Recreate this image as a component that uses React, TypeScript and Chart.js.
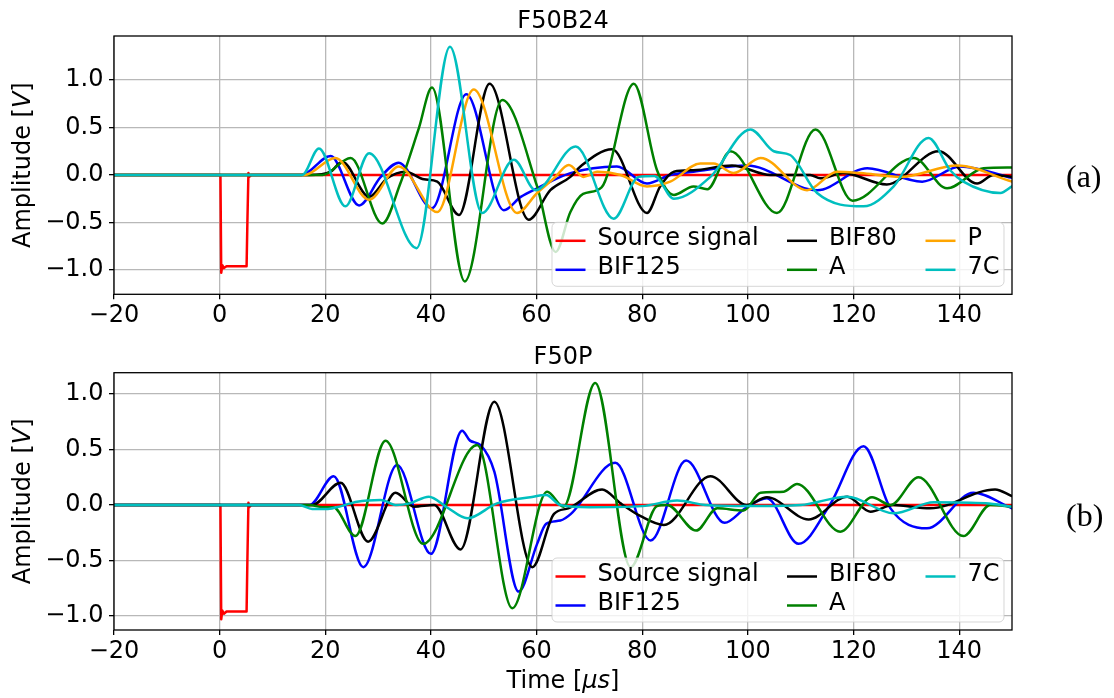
import React, { useEffect, useRef } from "react";
import { Chart, registerables } from "chart.js";

Chart.register(...registerables);

const W = 1114;
const FONT = "'DejaVu Sans', 'Noto Sans', sans-serif";
const GRID = "#b8b8b8";

// ---------- axis ticks ----------
const xTicks = [-20, 0, 20, 40, 60, 80, 100, 120, 140];
const yTicks = [-1.0, -0.5, 0.0, 0.5, 1.0];

// ---------- series names / colours ----------
const nameSource = "Source signal";
const nameBif125 = "BIF125";
const nameBif80 = "BIF80";
const nameA = "A";
const nameP = "P";
const name7C = "7C";

const colSource = "#ff0000";
const colBif125 = "#0000ff";
const colBif80 = "#000000";
const colA = "#008000";
const colP = "#ffa500";
const col7C = "#00bfbf";

// ---------- source signal (both panels) ----------
const sourceT = [-20, 0.15, 0.3, 0.5, 0.8, 1.3, 5.1, 5.25, 5.45, 5.6, 6.0, 150];
const sourceV = [0, 0, -1.03, -0.95, -0.98, -0.96, -0.96, -0.5, 0.02, -0.02, 0, 0];

// ---------- panel (a) F50B24 ----------
const b24Bif125T = [-20, 15.5, 21, 26.4, 30.5, 33.9, 40.2, 46.7, 53.8, 57, 60.1, 66.4, 75.2, 80.9, 85.3, 89.7, 99.8, 113.1, 122.6, 133, 140.2, 150];
const b24Bif125V = [0, 0, 0.2, -0.32, -0.02, 0.13, -0.35, 0.85, -0.37, -0.23, -0.14, 0.02, 0.09, -0.09, 0, 0.035, 0.1, -0.16, 0.07, -0.07, 0.09, -0.03];

const b24Bif80T = [-20, 17, 21, 23.2, 28.3, 31.7, 35.2, 38.7, 41.2, 45.3, 51.1, 58.5, 62.6, 66.4, 68.3, 74.3, 80.9, 83.4, 86, 89.7, 97, 104.3, 111.8, 113.7, 118, 126.3, 136.1, 143.4, 146.5, 150];
const b24Bif80V = [0, 0, 0.035, 0.14, -0.23, -0.035, 0.035, -0.046, -0.07, -0.42, 0.96, -0.47, -0.16, -0.02, 0.09, 0.27, -0.4, -0.12, 0.035, 0.05, 0.1, 0, 0, -0.035, 0.02, -0.1, 0.25, -0.09, 0, -0.02];

const b24AT = [-20, 19.5, 24.8, 30.8, 34.2, 37.7, 40.2, 46.4, 53.5, 60.1, 63.6, 66.4, 68.8, 72.3, 78.4, 82.8, 86, 89.7, 92.3, 96.7, 105.5, 112.8, 119.8, 131.4, 137.7, 144.6, 150];
const b24AV = [0, 0, 0.18, -0.51, -0.09, 0.49, 0.92, -1.12, 0.79, -0.12, -0.81, -0.39, -0.2, -0.13, 0.96, 0.05, -0.21, -0.12, -0.15, 0.25, -0.4, 0.48, -0.27, 0.18, -0.14, 0.07, 0.08];

const b24PT = [-20, 16, 21.9, 28.3, 33.9, 41.2, 48.1, 56.3, 60.1, 63.3, 66.1, 68.9, 71.5, 75.9, 80.9, 85.3, 91, 93.5, 97.3, 102.4, 111.2, 116.9, 121.3, 128.9, 139.6, 150];
const b24PV = [0, 0, 0.18, -0.26, 0.09, -0.39, 0.9, -0.4, -0.19, -0.035, 0.105, -0.02, 0.035, 0, -0.12, -0.07, 0.12, 0.12, 0.02, 0.18, -0.16, 0.035, 0.02, -0.02, 0.1, -0.07];

const b24C7T = [-20, 15.6, 18.8, 23.8, 28.3, 37.3, 43.6, 49.7, 55.7, 59.8, 67.4, 74.6, 79.3, 82.3, 86, 92.9, 100.5, 104.9, 108, 113.1, 121.9, 127.6, 134.2, 138.3, 140.8, 147.8, 150];
const b24C7V = [0, 0, 0.28, -0.33, 0.23, -0.77, 1.35, -0.4, 0.16, -0.16, 0.3, -0.46, -0.02, -0.01, -0.25, -0.02, 0.48, 0.25, 0.21, -0.19, -0.33, -0.12, 0.39, 0.05, -0.07, -0.19, -0.12];

// ---------- panel (b) F50P ----------
const pBif125T = [-20, 17, 21.6, 27.2, 33.6, 40, 45.9, 47.4, 49.4, 52, 56.6, 60.1, 61.8, 64.5, 66.5, 74.9, 81.6, 88.3, 95.6, 99.5, 103.6, 109.6, 115.5, 121.9, 127, 133.9, 142.7, 150];
const pBif125V = [0, 0, 0.26, -0.56, 0.36, -0.44, 0.67, 0.58, 0.54, 0.3, -0.78, -0.35, -0.17, -0.14, -0.08, 0.38, -0.32, 0.4, -0.16, -0.03, 0.06, -0.35, 0, 0.53, -0.03, -0.21, 0.11, -0.03];

const pBif80T = [-20, 17.5, 22.9, 28.1, 33.3, 36.8, 40.6, 45.6, 52, 59.2, 63.3, 66, 72.4, 75.9, 79.7, 84.1, 92.9, 99.8, 103.6, 111.5, 118.8, 123.2, 127.5, 134.5, 146.8, 150];
const pBif80V = [0, 0, 0.2, -0.33, 0.11, -0.015, 0, -0.4, 0.93, -0.56, -0.08, -0.03, 0.14, 0.015, -0.1, -0.18, 0.26, 0, 0.07, -0.13, 0.075, -0.06, 0, -0.03, 0.14, 0.08];

const pAT = [-20, 17, 19.5, 21.5, 25.7, 31.4, 38.5, 48.75, 55.4, 62, 65.1, 71.1, 77.8, 82.8, 84.7, 90.2, 94.2, 99.2, 102.4, 106.8, 109.3, 117.5, 123.5, 127, 132.3, 140.8, 145.9, 150];
const pAV = [0, 0, -0.02, -0.02, -0.28, 0.58, -0.35, 0.54, -0.93, 0.12, -0.015, 1.1, -0.56, -0.01, 0, -0.23, -0.03, -0.05, 0.11, 0.12, 0.19, -0.24, 0.07, 0, 0.25, -0.28, 0, -0.015];

const pC7T = [-20, 15, 17.5, 20.5, 23, 26, 30.5, 33.5, 36, 39.6, 43, 46.9, 52.5, 58.8, 61.8, 64.5, 70, 80, 86.6, 92, 100, 110, 118.8, 127.6, 135.2, 145, 150];
const pC7V = [0, 0, -0.035, -0.035, -0.01, 0.03, 0.045, 0, 0.015, 0.075, -0.02, -0.12, 0.015, 0.07, 0.09, 0, -0.02, -0.01, 0.04, 0, -0.01, 0, 0.075, -0.075, 0.025, 0.015, -0.015];

// ---------- types ----------
type Series = { name: string; color: string; t: number[]; v: number[] };
type Panel = {
  title: string;
  top: number;
  height: number;
  area: { left: number; right: number; top: number; bottom: number };
  yMin: number;
  yMax: number;
  series: Series[];
  legendCols: number[][];
  xLabel: boolean;
};

const panels: Panel[] = [
  {
    title: "F50B24",
    top: 0,
    height: 340,
    area: { left: 114, right: 1012, top: 36, bottom: 294.3 },
    yMin: -1.256,
    yMax: 1.463,
    series: [
      { name: nameSource, color: colSource, t: sourceT, v: sourceV },
      { name: nameBif125, color: colBif125, t: b24Bif125T, v: b24Bif125V },
      { name: nameBif80, color: colBif80, t: b24Bif80T, v: b24Bif80V },
      { name: nameA, color: colA, t: b24AT, v: b24AV },
      { name: nameP, color: colP, t: b24PT, v: b24PV },
      { name: name7C, color: col7C, t: b24C7T, v: b24C7V },
    ],
    legendCols: [[0, 1], [2, 3], [4, 5]],
    xLabel: false,
  },
  {
    title: "F50P",
    top: 340,
    height: 358,
    area: { left: 114, right: 1012, top: 32.7, bottom: 290 },
    yMin: -1.126,
    yMax: 1.192,
    series: [
      { name: nameSource, color: colSource, t: sourceT, v: sourceV },
      { name: nameBif125, color: colBif125, t: pBif125T, v: pBif125V },
      { name: nameBif80, color: colBif80, t: pBif80T, v: pBif80V },
      { name: nameA, color: colA, t: pAT, v: pAV },
      { name: name7C, color: col7C, t: pC7T, v: pC7V },
    ],
    legendCols: [[0, 1], [2, 3], [4]],
    xLabel: true,
  },
];

const LEG_W = 452;
const LEG_H = 64;
const LEG_COL_X = [3.5, 235, 373.5];
const LEG_ROW_Y = [18.5, 47.5];

const fmtY = (v: number) => (v < 0 ? "\u2212" : "") + Math.abs(v).toFixed(1);
const fmtX = (v: number) => (v < 0 ? "\u2212" : "") + Math.abs(v).toString();

function drawMixed(
  ctx: CanvasRenderingContext2D,
  parts: [string, boolean][],
  cx: number,
  baseY: number,
  rotate: boolean
) {
  ctx.save();
  ctx.translate(cx, baseY);
  if (rotate) ctx.rotate(-Math.PI / 2);
  const fonts = parts.map(([, it]) => `${it ? "italic " : ""}24px ${FONT}`);
  let total = 0;
  const widths = parts.map(([s], i) => {
    ctx.font = fonts[i];
    const w = ctx.measureText(s).width;
    total += w;
    return w;
  });
  let x = -total / 2;
  ctx.textAlign = "left";
  ctx.textBaseline = "alphabetic";
  ctx.fillStyle = "#000";
  parts.forEach(([s], i) => {
    ctx.font = fonts[i];
    ctx.fillText(s, x, 0);
    x += widths[i];
  });
  ctx.restore();
}

function roundRectPath(ctx: CanvasRenderingContext2D, x: number, y: number, w: number, h: number, r: number) {
  ctx.beginPath();
  ctx.moveTo(x + r, y);
  ctx.lineTo(x + w - r, y);
  ctx.arcTo(x + w, y, x + w, y + r, r);
  ctx.lineTo(x + w, y + h - r);
  ctx.arcTo(x + w, y + h, x + w - r, y + h, r);
  ctx.lineTo(x + r, y + h);
  ctx.arcTo(x, y + h, x, y + h - r, r);
  ctx.lineTo(x, y + r);
  ctx.arcTo(x, y, x + r, y, r);
  ctx.closePath();
}

function PanelChart({ panel }: { panel: Panel }) {
  const ref = useRef<HTMLCanvasElement>(null);

  useEffect(() => {
    const canvas = ref.current;
    if (!canvas) return;
    const n = panel.series.length;
    const a = panel.area;

    const decor = {
      id: "decor",
      afterDraw(chart: any) {
        const ctx: CanvasRenderingContext2D = chart.ctx;
        const ca = chart.chartArea;
        ctx.save();
        // frame
        ctx.strokeStyle = "#000";
        ctx.lineWidth = 1.3;
        ctx.strokeRect(ca.left, ca.top, ca.right - ca.left, ca.bottom - ca.top);
        // title
        ctx.fillStyle = "#000";
        ctx.font = `24px ${FONT}`;
        ctx.textAlign = "center";
        ctx.textBaseline = "alphabetic";
        ctx.fillText(panel.title, (ca.left + ca.right) / 2, ca.top - 8.5);
        ctx.restore();
        // y label
        drawMixed(ctx, [["Amplitude [", false], ["V", true], ["]", false]], 30, (ca.top + ca.bottom) / 2, true);
        // x label
        if (panel.xLabel) {
          drawMixed(ctx, [["Time [", false], ["\u03bcs", true], ["]", false]], (ca.left + ca.right) / 2, ca.bottom + 58, false);
        }
        // legend
        ctx.save();
        const bx = ca.right - 8 - LEG_W;
        const by = ca.bottom - 8 - LEG_H;
        roundRectPath(ctx, bx, by, LEG_W, LEG_H, 5);
        ctx.fillStyle = "rgba(255,255,255,0.8)";
        ctx.fill();
        ctx.strokeStyle = "rgba(204,204,204,0.8)";
        ctx.lineWidth = 1;
        ctx.stroke();
        panel.legendCols.forEach((col, ci) => {
          col.forEach((si, ri) => {
            const s = panel.series[si];
            const hx = bx + LEG_COL_X[ci];
            const hy = by + LEG_ROW_Y[ri];
            ctx.strokeStyle = s.color;
            ctx.lineWidth = 2.5;
            ctx.beginPath();
            ctx.moveTo(hx, hy);
            ctx.lineTo(hx + 30, hy);
            ctx.stroke();
            ctx.fillStyle = "#000";
            ctx.font = `24px ${FONT}`;
            ctx.textAlign = "left";
            ctx.textBaseline = "middle";
            ctx.fillText(s.name, hx + 42, hy - 2);
          });
        });
        ctx.restore();
      },
    };

    const chart = new Chart(canvas, {
      type: "line",
      data: {
        datasets: panel.series.map((s, i) => ({
          label: s.name,
          data: s.t.map((t, j) => ({ x: t, y: s.v[j] })),
          borderColor: s.color,
          backgroundColor: s.color,
          borderWidth: 2.5,
          pointRadius: 0,
          fill: false,
          tension: 0,
          cubicInterpolationMode: i === 0 ? "default" : "monotone",
          borderJoinStyle: "round",
          borderCapStyle: "round",
          order: n - i,
        })),
      },
      options: {
        responsive: false,
        animation: false,
        events: [],
        layout: { padding: { left: 0, right: W - a.right, top: a.top, bottom: 0 } },
        plugins: {
          legend: { display: false },
          title: { display: false },
          tooltip: { enabled: false },
        },
        scales: {
          x: {
            type: "linear",
            min: -20,
            max: 150,
            afterBuildTicks: (sc: any) => {
              sc.ticks = xTicks.map((v) => ({ value: v }));
            },
            afterFit: (sc: any) => {
              sc.height = panel.height - a.bottom;
            },
            grid: { color: GRID, lineWidth: 1.3, tickColor: "#000", tickLength: 5, tickWidth: 1.3, drawTicks: true },
            border: { display: false },
            ticks: {
              color: "#000",
              font: { family: FONT, size: 24 },
              padding: 2,
              maxRotation: 0,
              autoSkip: false,
              callback: (v: any) => fmtX(Number(v)),
            },
          },
          y: {
            type: "linear",
            min: panel.yMin,
            max: panel.yMax,
            afterBuildTicks: (sc: any) => {
              sc.ticks = yTicks.map((v) => ({ value: v }));
            },
            afterFit: (sc: any) => {
              sc.width = a.left;
            },
            grid: { color: GRID, lineWidth: 1.3, tickColor: "#000", tickLength: 5, tickWidth: 1.3, drawTicks: true },
            border: { display: false },
            ticks: {
              color: "#000",
              font: { family: FONT, size: 24 },
              padding: 5.5,
              autoSkip: false,
              callback: (v: any) => fmtY(Number(v)),
            },
          },
        },
      } as any,
      plugins: [decor],
    } as any);

    return () => chart.destroy();
  }, [panel]);

  return (
    <canvas
      ref={ref}
      width={W}
      height={panel.height}
      style={{ position: "absolute", left: 0, top: panel.top, width: W, height: panel.height }}
    />
  );
}

export default function App() {
  const tagStyle: React.CSSProperties = {
    position: "absolute",
    left: 1066,
    fontFamily: "'Liberation Serif', 'Times New Roman', serif",
    fontSize: 32,
    lineHeight: "32px",
    color: "#000",
    whiteSpace: "nowrap",
  };
  return (
    <div
      style={{
        position: "absolute",
        left: 0,
        top: 0,
        width: W,
        height: 698,
        background: "#fff",
        overflow: "hidden",
      }}
    >
      {panels.map((p) => (
        <PanelChart key={p.title} panel={p} />
      ))}
      <div style={{ ...tagStyle, top: 160 }}>(a)</div>
      <div style={{ ...tagStyle, top: 499 }}>(b)</div>
    </div>
  );
}
